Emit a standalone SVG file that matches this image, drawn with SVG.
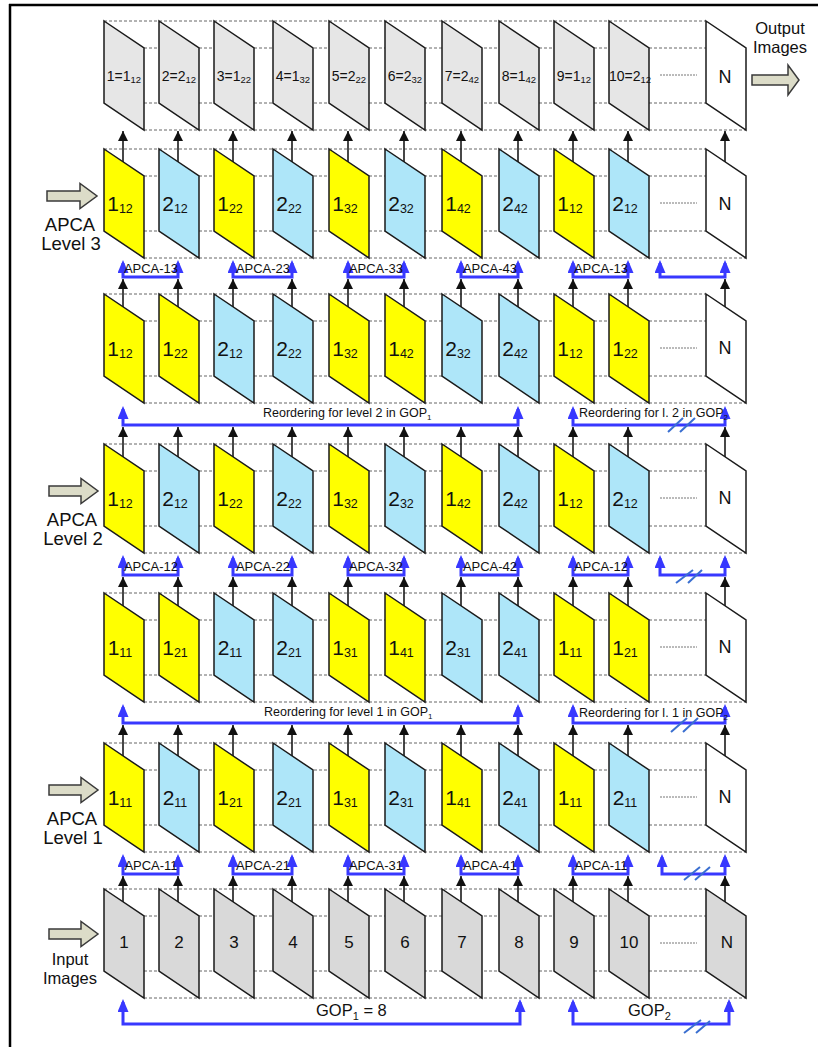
<svg xmlns="http://www.w3.org/2000/svg" xmlns:xlink="http://www.w3.org/1999/xlink" width="818" height="1047" viewBox="0 0 818 1047">
<defs>
<polygon id="pg" points="0,0 40,27 40,109 0,82"/>
<marker id="ak" viewBox="0 0 10 10" refX="10" refY="5" markerWidth="10" markerHeight="10" markerUnits="userSpaceOnUse" orient="auto"><path d="M0,0 L10,5 L0,10 z" fill="#111"/></marker>
<marker id="ab" viewBox="0 0 13 11" refX="10" refY="5.5" markerWidth="13" markerHeight="11" markerUnits="userSpaceOnUse" orient="auto-start-reverse"><path d="M0,0 L13,5.5 L0,11 z" fill="#3838ff"/></marker>
</defs>
<style>
.f{stroke:#1a1a1a;stroke-width:1.5;stroke-linejoin:miter}
.y{fill:#ffff00}.b{fill:#aee6f9}.g1{fill:#e6e6e6}.g2{fill:#d9d9d9}.w{fill:#ffffff}
.d{stroke:#666;stroke-width:1;stroke-dasharray:3 2;fill:none}
.m{stroke:#777;stroke-width:1;stroke-dasharray:2 1;fill:none}
.k{stroke:#1a1a1a;stroke-width:1.6;fill:none;marker-end:url(#ak)}
.bl{stroke:#3838ff;stroke-width:3;fill:none;marker-start:url(#ab);marker-end:url(#ab)}
.sl{stroke:#3a6fd0;stroke-width:2;fill:none}
.ba{fill:#dcdcc8;stroke:#3a3a3a;stroke-width:1.5}
text{font-family:"Liberation Sans",Arial,sans-serif;fill:#111}
.lt{font-size:14px;text-anchor:middle}.st{font-size:9.5px}
.lb{font-size:21px;text-anchor:middle}.sb{font-size:12.5px}
.ln{font-size:18px;text-anchor:middle}
.lg{font-size:17px;text-anchor:middle}
.la{font-size:13px;text-anchor:middle}
.lr{font-size:12.5px}
.lx{font-size:18.5px;text-anchor:middle}
.li{font-size:16.5px;text-anchor:middle}
.gp{font-size:16.5px}
</style>
<rect width="818" height="1047" fill="#ffffff"/>
<g id="frame" stroke="#000" stroke-width="2.5"><line x1="9" y1="5" x2="818" y2="5"/><line x1="10" y1="4" x2="10" y2="1047"/></g>

<g id="guides">
<path class="d" d="M104 21H706M104 48H746M104 103H746M144 130H746"/>
<path class="d" d="M104 149H706M104 176H746M104 231H746M144 258H746"/>
<path class="d" d="M104 294H706M104 321H746M104 376H746M144 403H746"/>
<path class="d" d="M104 444H706M104 471H746M104 526H746M144 553H746"/>
<path class="d" d="M104 593H706M104 620H746M104 675H746M144 702H746"/>
<path class="d" d="M104 743H706M104 770H746M104 825H746M144 852H746"/>
<path class="d" d="M104 889H706M104 916H746M104 971H746M144 998H746"/>
<path class="m" d="M660 75H697M660 203H697M660 348H697M660 498H697M660 647H697M660 797H697M660 943H697"/>
</g>

<g id="side">
<g id="out"><polygon class="ba" points="752,75 788,75 788,65 799,80 788,95 788,85 752,85"/><text class="li" x="780" y="34">Output</text><text class="li" x="780" y="53">Images</text></g>
<g id="lv3"><polygon class="ba" points="47,191 80,191 80,183.5 97,196 80,208.5 80,201 47,201"/><text class="lx" x="70" y="231">APCA</text><text class="lx" x="71" y="250">Level 3</text></g>
<g id="lv2"><polygon class="ba" points="49,486 81,486 81,478.5 98,491 81,503.5 81,496 49,496"/><text class="lx" x="72" y="526">APCA</text><text class="lx" x="73" y="545">Level 2</text></g>
<g id="lv1"><polygon class="ba" points="49,785 81,785 81,777.5 98,790 81,802.5 81,795 49,795"/><text class="lx" x="72" y="825">APCA</text><text class="lx" x="73" y="844">Level 1</text></g>
<g id="inp"><polygon class="ba" points="49,929 81,929 81,921.5 98,934 81,946.5 81,939 49,939"/><text class="li" x="70" y="965">Input</text><text class="li" x="70" y="984">Images</text></g>
</g>

<g id="connectors">
<g id="k-ab">
<path class="k" d="M123 162V131"/><path class="k" d="M178 162V131"/><path class="k" d="M233 162V131"/><path class="k" d="M292 162V131"/><path class="k" d="M348 162V131"/><path class="k" d="M404 162V131"/><path class="k" d="M461 162V131"/><path class="k" d="M518 162V131"/><path class="k" d="M573 162V131"/><path class="k" d="M628 162V131"/><path class="k" d="M725 162V131"/>
</g>
<g id="k-bc">
<path class="k" d="M123 307V279"/><path class="k" d="M178 307V279"/><path class="k" d="M233 307V279"/><path class="k" d="M292 307V279"/><path class="k" d="M348 307V279"/><path class="k" d="M404 307V279"/><path class="k" d="M461 307V279"/><path class="k" d="M518 307V279"/><path class="k" d="M573 307V279"/><path class="k" d="M628 307V279"/><path class="k" d="M725 307V279"/>
</g>
<g id="k-cd">
<path class="k" d="M123 457V427"/><path class="k" d="M178 457V427"/><path class="k" d="M233 457V427"/><path class="k" d="M292 457V427"/><path class="k" d="M348 457V427"/><path class="k" d="M404 457V427"/><path class="k" d="M461 457V427"/><path class="k" d="M518 457V427"/><path class="k" d="M573 457V427"/><path class="k" d="M628 457V427"/><path class="k" d="M725 457V427"/>
</g>
<g id="k-de">
<path class="k" d="M123 606V577"/><path class="k" d="M178 606V577"/><path class="k" d="M233 606V577"/><path class="k" d="M292 606V577"/><path class="k" d="M348 606V577"/><path class="k" d="M404 606V577"/><path class="k" d="M461 606V577"/><path class="k" d="M518 606V577"/><path class="k" d="M573 606V577"/><path class="k" d="M628 606V577"/><path class="k" d="M725 606V577"/>
</g>
<g id="k-ef">
<path class="k" d="M123 756V725"/><path class="k" d="M178 756V725"/><path class="k" d="M233 756V725"/><path class="k" d="M292 756V725"/><path class="k" d="M348 756V725"/><path class="k" d="M404 756V725"/><path class="k" d="M461 756V725"/><path class="k" d="M518 756V725"/><path class="k" d="M573 756V725"/><path class="k" d="M628 756V725"/><path class="k" d="M725 756V725"/>
</g>
<g id="k-fg">
<path class="k" d="M123 902V876"/><path class="k" d="M178 902V876"/><path class="k" d="M233 902V876"/><path class="k" d="M292 902V876"/><path class="k" d="M348 902V876"/><path class="k" d="M404 902V876"/><path class="k" d="M461 902V876"/><path class="k" d="M518 902V876"/><path class="k" d="M573 902V876"/><path class="k" d="M628 902V876"/><path class="k" d="M725 902V876"/>
</g>
<g id="apca3">
<path class="bl" d="M123 263V277H178V263"/><path class="bl" d="M233 263V277H292V263"/><path class="bl" d="M348 263V277H404V263"/><path class="bl" d="M461 263V277H518V263"/><path class="bl" d="M573 263V277H628V263"/><path class="bl" d="M660 263V277H725V263"/>
<text class="la" x="151" y="273">APCA-13</text><text class="la" x="263" y="273">APCA-23</text><text class="la" x="376" y="273">APCA-33</text><text class="la" x="490" y="273">APCA-43</text><text class="la" x="601" y="273">APCA-13</text>
</g>
<g id="reord2">
<path class="bl" d="M123 409V425H518V409"/><path class="bl" d="M573 409V425H725V409"/>
<path class="sl" d="M668 432L683 418M680 432L695 418"/>
<text class="lr" x="263" y="417">Reordering for level 2 in GOP<tspan font-size="8" dy="3">1</tspan></text>
<text class="lr" x="579" y="417">Reordering for l. 2 in GOP<tspan font-size="8" dy="3">2</tspan></text>
</g>
<g id="apca2">
<path class="bl" d="M123 558V575H178V558"/><path class="bl" d="M233 558V575H292V558"/><path class="bl" d="M348 558V575H404V558"/><path class="bl" d="M461 558V575H518V558"/><path class="bl" d="M573 558V575H628V558"/><path class="bl" d="M660 558V575H725V558"/>
<path class="sl" d="M676 583L693 570M688 583L702 570"/>
<text class="la" x="151" y="571">APCA-12</text><text class="la" x="263" y="571">APCA-22</text><text class="la" x="376" y="571">APCA-32</text><text class="la" x="490" y="571">APCA-42</text><text class="la" x="601" y="571">APCA-12</text>
</g>
<g id="reord1">
<path class="bl" d="M123 707V723H518V707"/><path class="bl" d="M573 707V723H725V707"/>
<path class="sl" d="M671 732L687 718M683 732L698 718"/>
<text class="lr" x="264" y="716">Reordering for level 1 in GOP<tspan font-size="8" dy="3">1</tspan></text>
<text class="lr" x="579" y="717">Reordering for l. 1 in GOP<tspan font-size="8" dy="3">2</tspan></text>
</g>
<g id="apca1">
<path class="bl" d="M123 857V874H178V857"/><path class="bl" d="M233 857V874H292V857"/><path class="bl" d="M348 857V874H404V857"/><path class="bl" d="M461 857V874H518V857"/><path class="bl" d="M573 857V874H628V857"/><path class="bl" d="M662 857V874H725V857"/>
<path class="sl" d="M684 880L700 867M695 880L710 867"/>
<text class="la" x="151" y="870">APCA-11</text><text class="la" x="263" y="870">APCA-21</text><text class="la" x="376" y="870">APCA-31</text><text class="la" x="490" y="870">APCA-41</text><text class="la" x="601" y="870">APCA-11</text>
</g>
<g id="gop">
<path class="bl" d="M123 1002V1024H520V1002"/><path class="bl" d="M573 1002V1024H729V1002"/>
<path class="sl" d="M684 1033L701 1020M696 1033L710 1021"/>
<text class="gp" x="316" y="1016">GOP<tspan font-size="11" dy="4">1</tspan><tspan dy="-4"> = 8</tspan></text>
<text class="gp" x="628" y="1016">GOP<tspan font-size="11" dy="4">2</tspan></text>
</g>
</g>

<g id="rowA">
<g id="a1"><use href="#pg" x="104" y="21" class="f g1"/><text class="lt" x="124" y="81">1=1<tspan class="st" dy="2">12</tspan></text></g>
<g id="a2"><use href="#pg" x="159" y="21" class="f g1"/><text class="lt" x="179" y="81">2=2<tspan class="st" dy="2">12</tspan></text></g>
<g id="a3"><use href="#pg" x="214" y="21" class="f g1"/><text class="lt" x="234" y="81">3=1<tspan class="st" dy="2">22</tspan></text></g>
<g id="a4"><use href="#pg" x="273" y="21" class="f g1"/><text class="lt" x="293" y="81">4=1<tspan class="st" dy="2">32</tspan></text></g>
<g id="a5"><use href="#pg" x="329" y="21" class="f g1"/><text class="lt" x="349" y="81">5=2<tspan class="st" dy="2">22</tspan></text></g>
<g id="a6"><use href="#pg" x="385" y="21" class="f g1"/><text class="lt" x="405" y="81">6=2<tspan class="st" dy="2">32</tspan></text></g>
<g id="a7"><use href="#pg" x="442" y="21" class="f g1"/><text class="lt" x="462" y="81">7=2<tspan class="st" dy="2">42</tspan></text></g>
<g id="a8"><use href="#pg" x="499" y="21" class="f g1"/><text class="lt" x="519" y="81">8=1<tspan class="st" dy="2">42</tspan></text></g>
<g id="a9"><use href="#pg" x="554" y="21" class="f g1"/><text class="lt" x="574" y="81">9=1<tspan class="st" dy="2">12</tspan></text></g>
<g id="a10"><use href="#pg" x="609" y="21" class="f g1"/><text class="lt" x="630" y="81" font-size="13">10=2<tspan class="st" dy="2">12</tspan></text></g>
<g id="aN"><use href="#pg" x="706" y="21" class="f w"/><text class="ln" x="725" y="83">N</text></g>
</g>

<g id="rowB">
<g id="b1"><use href="#pg" x="104" y="149" class="f y"/><text class="lb" x="120" y="211">1<tspan class="sb" dy="2">12</tspan></text></g>
<g id="b2"><use href="#pg" x="159" y="149" class="f b"/><text class="lb" x="175" y="211">2<tspan class="sb" dy="2">12</tspan></text></g>
<g id="b3"><use href="#pg" x="214" y="149" class="f y"/><text class="lb" x="230" y="211">1<tspan class="sb" dy="2">22</tspan></text></g>
<g id="b4"><use href="#pg" x="273" y="149" class="f b"/><text class="lb" x="289" y="211">2<tspan class="sb" dy="2">22</tspan></text></g>
<g id="b5"><use href="#pg" x="329" y="149" class="f y"/><text class="lb" x="345" y="211">1<tspan class="sb" dy="2">32</tspan></text></g>
<g id="b6"><use href="#pg" x="385" y="149" class="f b"/><text class="lb" x="401" y="211">2<tspan class="sb" dy="2">32</tspan></text></g>
<g id="b7"><use href="#pg" x="442" y="149" class="f y"/><text class="lb" x="458" y="211">1<tspan class="sb" dy="2">42</tspan></text></g>
<g id="b8"><use href="#pg" x="499" y="149" class="f b"/><text class="lb" x="515" y="211">2<tspan class="sb" dy="2">42</tspan></text></g>
<g id="b9"><use href="#pg" x="554" y="149" class="f y"/><text class="lb" x="570" y="211">1<tspan class="sb" dy="2">12</tspan></text></g>
<g id="b10"><use href="#pg" x="609" y="149" class="f b"/><text class="lb" x="625" y="211">2<tspan class="sb" dy="2">12</tspan></text></g>
<g id="bN"><use href="#pg" x="706" y="149" class="f w"/><text class="ln" x="725" y="210">N</text></g>
</g>

<g id="rowC">
<g id="c1"><use href="#pg" x="104" y="294" class="f y"/><text class="lb" x="120" y="356">1<tspan class="sb" dy="2">12</tspan></text></g>
<g id="c2"><use href="#pg" x="159" y="294" class="f y"/><text class="lb" x="175" y="356">1<tspan class="sb" dy="2">22</tspan></text></g>
<g id="c3"><use href="#pg" x="214" y="294" class="f b"/><text class="lb" x="230" y="356">2<tspan class="sb" dy="2">12</tspan></text></g>
<g id="c4"><use href="#pg" x="273" y="294" class="f b"/><text class="lb" x="289" y="356">2<tspan class="sb" dy="2">22</tspan></text></g>
<g id="c5"><use href="#pg" x="329" y="294" class="f y"/><text class="lb" x="345" y="356">1<tspan class="sb" dy="2">32</tspan></text></g>
<g id="c6"><use href="#pg" x="385" y="294" class="f y"/><text class="lb" x="401" y="356">1<tspan class="sb" dy="2">42</tspan></text></g>
<g id="c7"><use href="#pg" x="442" y="294" class="f b"/><text class="lb" x="458" y="356">2<tspan class="sb" dy="2">32</tspan></text></g>
<g id="c8"><use href="#pg" x="499" y="294" class="f b"/><text class="lb" x="515" y="356">2<tspan class="sb" dy="2">42</tspan></text></g>
<g id="c9"><use href="#pg" x="554" y="294" class="f y"/><text class="lb" x="570" y="356">1<tspan class="sb" dy="2">12</tspan></text></g>
<g id="c10"><use href="#pg" x="609" y="294" class="f y"/><text class="lb" x="625" y="356">1<tspan class="sb" dy="2">22</tspan></text></g>
<g id="cN"><use href="#pg" x="706" y="294" class="f w"/><text class="ln" x="725" y="354">N</text></g>
</g>

<g id="rowD">
<g id="d1"><use href="#pg" x="104" y="444" class="f y"/><text class="lb" x="120" y="506">1<tspan class="sb" dy="2">12</tspan></text></g>
<g id="d2"><use href="#pg" x="159" y="444" class="f b"/><text class="lb" x="175" y="506">2<tspan class="sb" dy="2">12</tspan></text></g>
<g id="d3"><use href="#pg" x="214" y="444" class="f y"/><text class="lb" x="230" y="506">1<tspan class="sb" dy="2">22</tspan></text></g>
<g id="d4"><use href="#pg" x="273" y="444" class="f b"/><text class="lb" x="289" y="506">2<tspan class="sb" dy="2">22</tspan></text></g>
<g id="d5"><use href="#pg" x="329" y="444" class="f y"/><text class="lb" x="345" y="506">1<tspan class="sb" dy="2">32</tspan></text></g>
<g id="d6"><use href="#pg" x="385" y="444" class="f b"/><text class="lb" x="401" y="506">2<tspan class="sb" dy="2">32</tspan></text></g>
<g id="d7"><use href="#pg" x="442" y="444" class="f y"/><text class="lb" x="458" y="506">1<tspan class="sb" dy="2">42</tspan></text></g>
<g id="d8"><use href="#pg" x="499" y="444" class="f b"/><text class="lb" x="515" y="506">2<tspan class="sb" dy="2">42</tspan></text></g>
<g id="d9"><use href="#pg" x="554" y="444" class="f y"/><text class="lb" x="570" y="506">1<tspan class="sb" dy="2">12</tspan></text></g>
<g id="d10"><use href="#pg" x="609" y="444" class="f b"/><text class="lb" x="625" y="506">2<tspan class="sb" dy="2">12</tspan></text></g>
<g id="dN"><use href="#pg" x="706" y="444" class="f w"/><text class="ln" x="725" y="504">N</text></g>
</g>

<g id="rowE">
<g id="e1"><use href="#pg" x="104" y="593" class="f y"/><text class="lb" x="120" y="655">1<tspan class="sb" dy="2">11</tspan></text></g>
<g id="e2"><use href="#pg" x="159" y="593" class="f y"/><text class="lb" x="175" y="655">1<tspan class="sb" dy="2">21</tspan></text></g>
<g id="e3"><use href="#pg" x="214" y="593" class="f b"/><text class="lb" x="230" y="655">2<tspan class="sb" dy="2">11</tspan></text></g>
<g id="e4"><use href="#pg" x="273" y="593" class="f b"/><text class="lb" x="289" y="655">2<tspan class="sb" dy="2">21</tspan></text></g>
<g id="e5"><use href="#pg" x="329" y="593" class="f y"/><text class="lb" x="345" y="655">1<tspan class="sb" dy="2">31</tspan></text></g>
<g id="e6"><use href="#pg" x="385" y="593" class="f y"/><text class="lb" x="401" y="655">1<tspan class="sb" dy="2">41</tspan></text></g>
<g id="e7"><use href="#pg" x="442" y="593" class="f b"/><text class="lb" x="458" y="655">2<tspan class="sb" dy="2">31</tspan></text></g>
<g id="e8"><use href="#pg" x="499" y="593" class="f b"/><text class="lb" x="515" y="655">2<tspan class="sb" dy="2">41</tspan></text></g>
<g id="e9"><use href="#pg" x="554" y="593" class="f y"/><text class="lb" x="570" y="655">1<tspan class="sb" dy="2">11</tspan></text></g>
<g id="e10"><use href="#pg" x="609" y="593" class="f y"/><text class="lb" x="625" y="655">1<tspan class="sb" dy="2">21</tspan></text></g>
<g id="eN"><use href="#pg" x="706" y="593" class="f w"/><text class="ln" x="725" y="653">N</text></g>
</g>

<g id="rowF">
<g id="f1"><use href="#pg" x="104" y="743" class="f y"/><text class="lb" x="120" y="805">1<tspan class="sb" dy="2">11</tspan></text></g>
<g id="f2"><use href="#pg" x="159" y="743" class="f b"/><text class="lb" x="175" y="805">2<tspan class="sb" dy="2">11</tspan></text></g>
<g id="f3"><use href="#pg" x="214" y="743" class="f y"/><text class="lb" x="230" y="805">1<tspan class="sb" dy="2">21</tspan></text></g>
<g id="f4"><use href="#pg" x="273" y="743" class="f b"/><text class="lb" x="289" y="805">2<tspan class="sb" dy="2">21</tspan></text></g>
<g id="f5"><use href="#pg" x="329" y="743" class="f y"/><text class="lb" x="345" y="805">1<tspan class="sb" dy="2">31</tspan></text></g>
<g id="f6"><use href="#pg" x="385" y="743" class="f b"/><text class="lb" x="401" y="805">2<tspan class="sb" dy="2">31</tspan></text></g>
<g id="f7"><use href="#pg" x="442" y="743" class="f y"/><text class="lb" x="458" y="805">1<tspan class="sb" dy="2">41</tspan></text></g>
<g id="f8"><use href="#pg" x="499" y="743" class="f b"/><text class="lb" x="515" y="805">2<tspan class="sb" dy="2">41</tspan></text></g>
<g id="f9"><use href="#pg" x="554" y="743" class="f y"/><text class="lb" x="570" y="805">1<tspan class="sb" dy="2">11</tspan></text></g>
<g id="f10"><use href="#pg" x="609" y="743" class="f b"/><text class="lb" x="625" y="805">2<tspan class="sb" dy="2">11</tspan></text></g>
<g id="fN"><use href="#pg" x="706" y="743" class="f w"/><text class="ln" x="725" y="803">N</text></g>
</g>

<g id="rowG">
<g id="g1"><use href="#pg" x="104" y="889" class="f g2"/><text class="lg" x="124" y="948">1</text></g>
<g id="g2"><use href="#pg" x="159" y="889" class="f g2"/><text class="lg" x="179" y="948">2</text></g>
<g id="g3"><use href="#pg" x="214" y="889" class="f g2"/><text class="lg" x="234" y="948">3</text></g>
<g id="g4"><use href="#pg" x="273" y="889" class="f g2"/><text class="lg" x="293" y="948">4</text></g>
<g id="g5"><use href="#pg" x="329" y="889" class="f g2"/><text class="lg" x="349" y="948">5</text></g>
<g id="g6"><use href="#pg" x="385" y="889" class="f g2"/><text class="lg" x="405" y="948">6</text></g>
<g id="g7"><use href="#pg" x="442" y="889" class="f g2"/><text class="lg" x="462" y="948">7</text></g>
<g id="g8"><use href="#pg" x="499" y="889" class="f g2"/><text class="lg" x="519" y="948">8</text></g>
<g id="g9"><use href="#pg" x="554" y="889" class="f g2"/><text class="lg" x="574" y="948">9</text></g>
<g id="g10"><use href="#pg" x="609" y="889" class="f g2"/><text class="lg" x="629" y="948">10</text></g>
<g id="gN"><use href="#pg" x="706" y="889" class="f g2"/><text class="lg" x="727" y="948">N</text></g>
</g>
</svg>
